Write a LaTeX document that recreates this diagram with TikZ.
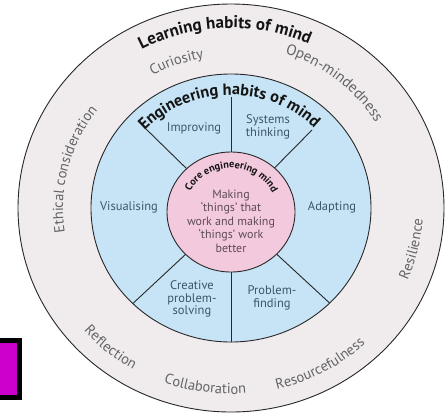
\documentclass[tikz,border=0pt]{standalone}
\usepackage{fontspec}
\setmainfont{PT Sans}
\usetikzlibrary{decorations.text}
\definecolor{ringfill}{RGB}{240,236,237}
\definecolor{bluefill}{RGB}{198,228,245}
\definecolor{pinkfill}{RGB}{243,201,221}
\definecolor{outertext}{RGB}{100,100,100}
\definecolor{segtext}{RGB}{62,86,102}
\definecolor{coretext}{RGB}{95,75,88}
\definecolor{titletext}{RGB}{20,20,20}
\definecolor{linecol}{RGB}{40,40,40}
\definecolor{mag}{RGB}{204,0,204}
\newcommand\titlefont{\fontsize{17}{17}\selectfont\bfseries\color{titletext}}
\newcommand\engfont{\fontsize{16.3}{16.3}\selectfont\bfseries\color{titletext}}
\newcommand\outerfont{\fontsize{14.5}{14.5}\selectfont\color{outertext}}
\newcommand\corefont{\fontsize{10.3}{10.3}\selectfont\bfseries\color{titletext}}
\newcommand\segfont{\fontsize{12.5}{12.8}\selectfont}
\newcommand\bodyfont{\fontsize{12}{13.5}\selectfont}
\begin{document}
\begin{tikzpicture}[x=1pt,y=1pt,
  ring/.style={draw=linecol, line width=0.9pt},
  divider/.style={draw=linecol, line width=0.9pt},
  seglabel/.style={text=segtext, font=\segfont, align=center, inner sep=0pt},
  curved/.style={decorate, decoration={text along path, text align=center, text={#1}}}
]
\useasboundingbox (0,0) rectangle (446,-416);
\fill[white] (0,0) rectangle (446,-416);
\coordinate (C) at (231,-208);
\coordinate (P) at (231,-212);
% rings
\draw[ring, fill=ringfill] (C) ellipse [x radius=213, y radius=204];
\draw[ring, fill=bluefill] (C) ellipse [x radius=140, y radius=134];
% dividers
\coordinate (t1) at (231,-97);
\coordinate (b1) at (231,-350);
\coordinate (ul) at (145,-128);
\coordinate (ur) at (312,-130);
\coordinate (ll) at (128,-308);
\coordinate (lr) at (335,-308);
\begin{scope}
  \clip (C) ellipse [x radius=140, y radius=134];
  \draw[divider] (t1) -- (P);
  \draw[divider] (b1) -- (P);
  \draw[divider] (ul) -- (P);
  \draw[divider] (ur) -- (P);
  \draw[divider] (ll) -- (P);
  \draw[divider] (lr) -- (P);
\end{scope}
\draw[ring, fill=pinkfill] (P) ellipse [x radius=64, y radius=60];
% curved titles
\path[shift={(C)}, curved={|\titlefont|Learning habits of mind}]
  (152:188 and 180) arc[start angle=152, end angle=32, x radius=188, y radius=180];
\path[shift={(C)}, curved={|\engfont|Engineering habits of mind}]
  (171:118 and 113) arc[start angle=171, end angle=11, x radius=118, y radius=113];
\path[shift={(P)}, curved={|\corefont|Core engineering mind}]
  (179:46 and 44) arc[start angle=179, end angle=-1, x radius=46, y radius=44];
% outer ring labels
\path[shift={(C)}, curved={|\outerfont|Curiosity}]
  (150:159 and 152) arc[start angle=150, end angle=70, x radius=159, y radius=152];
\path[shift={(C)}, curved={|\outerfont\fontsize{15}{15}\selectfont|Open-mindedness}]
  (101:170 and 163) arc[start angle=101, end angle=1, x radius=170, y radius=163];
\path[shift={(C)}, curved={|\outerfont|Ethical consideration}]
  (226:168 and 161) arc[start angle=226, end angle=106, x radius=168, y radius=161];
\path[shift={(C)}, curved={|\outerfont|Resilience}]
  (-63:192 and 184) arc[start angle=-63, end angle=37, x radius=192, y radius=184];
\path[shift={(C)}, curved={|\outerfont|Reflection}]
  (190:195 and 187) arc[start angle=190, end angle=270, x radius=195, y radius=187];
\path[shift={(C)}, curved={|\outerfont|Collaboration}]
  (222:194 and 186) arc[start angle=222, end angle=302, x radius=194, y radius=186];
\path[shift={(C)}, curved={|\outerfont|Resourcefulness}]
  (254:195 and 187) arc[start angle=254, end angle=344, x radius=195, y radius=187];
% segment labels
\node[seglabel] (improving) at (194,-128) {Improving};
\node[seglabel] (systems) at (268,-127) {Systems\\thinking};
\node[seglabel] (visual) at (129,-207) {Visualising};
\node[seglabel] (adapt) at (332,-207) {Adapting};
\node[seglabel] (creative) at (192,-299) {Creative\\problem-\\solving};
\node[seglabel] (finding) at (272,-298) {Problem-\\finding};
\node[text=coretext, font=\bodyfont, align=center, inner sep=0pt] (body) at (231,-221)
  {Making\\‘things’ that\\work and making\\‘things’ work\\better};
% magenta box
\fill[black] (0,-338) rectangle (22,-400);
\fill[mag] (0,-343) rectangle (17,-395);
\end{tikzpicture}
\end{document}
